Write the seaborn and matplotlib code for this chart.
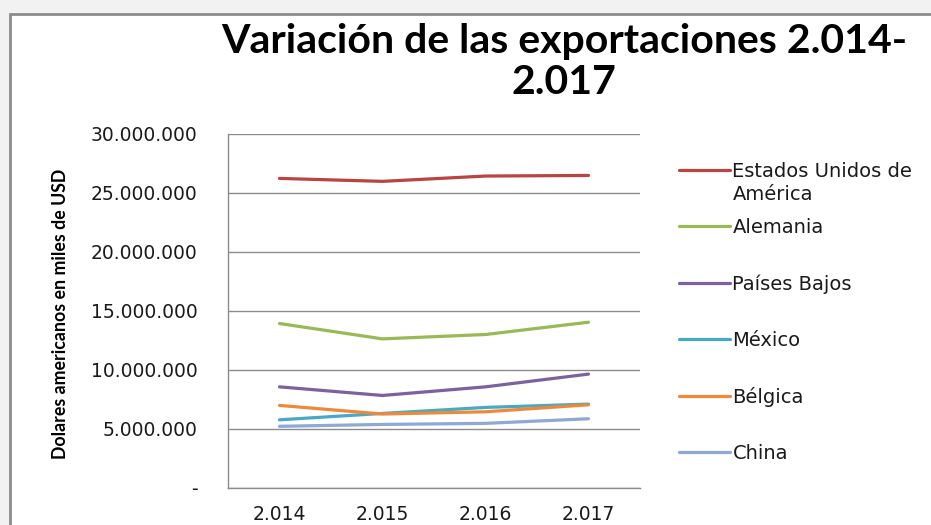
import pandas as pd
import seaborn as sns
from matplotlib import pyplot as plt
from matplotlib.patches import Rectangle
from matplotlib.ticker import FuncFormatter

years = ['2.014', '2.015', '2.016', '2.017']
paises = ['Estados Unidos de América', 'Alemania', 'Países Bajos', 'México', 'Bélgica', 'China']
estados_unidos = [26200000, 25950000, 26400000, 26450000]
alemania = [13920000, 12620000, 12990000, 14030000]
paises_bajos = [8560000, 7830000, 8560000, 9640000]
mexico = [5770000, 6310000, 6820000, 7100000]
belgica = [6990000, 6260000, 6450000, 7040000]
china = [5220000, 5380000, 5470000, 5860000]
colores = ['#B94441', '#98B954', '#7D60A0', '#46AAC5', '#F0883A', '#8EA9D6']

series = [estados_unidos, alemania, paises_bajos, mexico, belgica, china]
df = pd.DataFrame({
    'anio': years * len(paises),
    'pais': [p for p in paises for _ in years],
    'valor': [v for s in series for v in s],
})

sns.set_style('white')
plt.rcParams['font.family'] = ['DejaVu Sans']

fig = plt.figure(figsize=(9.31, 5.25), dpi=100)
fig.patch.set_facecolor('#f2f2f2')
# white chart area with grey frame
fig.patches.append(Rectangle((10 / 931, -0.1), 1.2, 1 - 14 / 525 + 0.1, transform=fig.transFigure,
                             facecolor='white', edgecolor='#8c8c8c', linewidth=2, zorder=-5))

ax = fig.add_axes([228 / 931, 1 - 488 / 525, 412 / 931, (488 - 133.5) / 525])
ax.set_facecolor('none')
sns.lineplot(data=df, x='anio', y='valor', hue='pais', palette=colores, linewidth=2.3,
             sort=False, ax=ax, legend=False)

ax.set_xlim(-0.5, 3.5)
ax.set_ylim(0, 30000000)
ax.set_yticks(range(0, 30000001, 5000000))
ax.yaxis.set_major_formatter(FuncFormatter(lambda v, p: '-' if v == 0 else f'{int(v):,}'.replace(',', '.')))
ax.grid(axis='y', color='#8c8c8c', linewidth=1)
ax.set_axisbelow(True)
for s in ['top', 'right']:
    ax.spines[s].set_visible(False)
for s in ['left', 'bottom']:
    ax.spines[s].set_color('#8c8c8c')
    ax.spines[s].set_linewidth(1)
ax.tick_params(axis='y', length=0, pad=22, labelsize=13.5, colors='#1a1a1a')
ax.tick_params(axis='x', length=0, pad=12, labelsize=13.5, colors='#1a1a1a')
ax.set_xlabel('')
ax.set_ylabel('Dolares americanos en miles de USD', family='Lato', fontweight='bold',
              fontsize=12.8, color='black')
ax.yaxis.set_label_coords(-0.385, 0.49)

# legend
handles = [plt.Line2D([], [], color=c, linewidth=2.3) for c in colores]
etiquetas = ['Estados Unidos de'] + paises[1:]
leg = fig.legend(handles, etiquetas, loc='upper left', bbox_to_anchor=(679 / 931, 1 - 162 / 525),
                 frameon=False, fontsize=14, handlelength=2.6, handletextpad=0.15,
                 labelspacing=1.91, borderaxespad=0, borderpad=0, labelcolor='#1a1a1a')
fig.canvas.draw()
t0 = leg.get_texts()[0].get_window_extent()
fig.text(t0.x0 / 931, (t0.y0 - 23) / 525, 'América', fontsize=14, va='bottom', ha='left', color='#1a1a1a')

fig.text(564 / 931, 1 - 23 / 525, 'Variación de las exportaciones 2.014-\n2.017', ha='center', va='top',
         family='Lato', fontweight='bold', fontsize=29.5, linespacing=1.12, color='black')

fig.savefig('out.png', dpi=100)
